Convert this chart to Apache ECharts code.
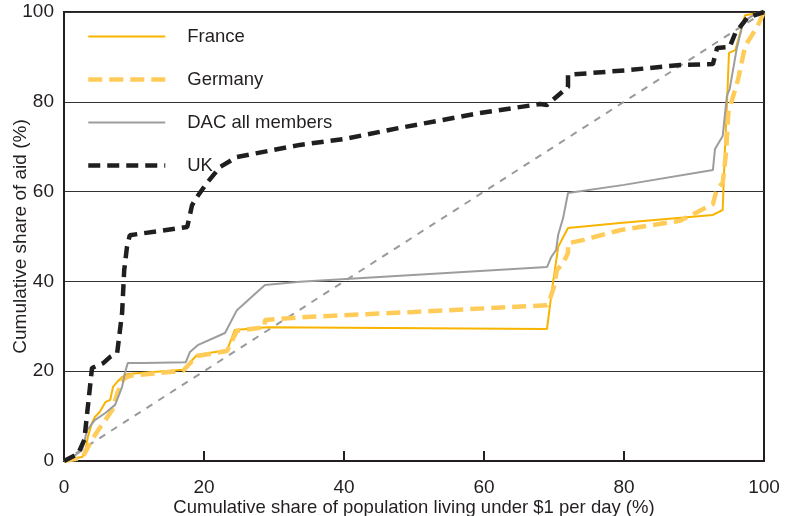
<!DOCTYPE html>
<html>
<head>
<meta charset="utf-8">
<script src="https://cdn.jsdelivr.net/npm/echarts@6/dist/echarts.min.js"></script>
<style>
  html, body { margin: 0; padding: 0; background: #fff; }
  #chart { width: 785px; height: 516px; }
</style>
</head>
<body>
<div id="chart"></div>
<script>
// Cumulative share of population living under $1 per day (x, %) vs cumulative share of aid (y, %)
const xTicks = [0, 20, 40, 60, 80, 100];
const yTicks = [0, 20, 40, 60, 80, 100];

const seriesNames = ['France', 'Germany', 'DAC all members', 'UK'];

const france = [
  [0, 0], [0.6, 0.4], [2.6, 0.9], [3, 1.8], [3.4, 5.3], [4, 8.5], [4.4, 9.8],
  [5.1, 10.9], [5.9, 13.1], [6.6, 13.6], [7, 16.5], [7.6, 17.6], [8.3, 18.7],
  [9.1, 19.4], [17, 20.3], [19, 23.6], [23.3, 24.7], [24.4, 29.2], [29, 29.8],
  [69, 29.4], [69.7, 38], [70.6, 47.7], [72, 51.9], [79.4, 53], [92.7, 54.8],
  [94.1, 55.9], [94.4, 68.6], [94.7, 79.3], [95, 90.9], [95.9, 91.5],
  [96.9, 97.1], [97.3, 99.3], [100, 100]
];

const germany = [
  [0, 0], [2.6, 0.7], [4, 4.7], [4.9, 6.9], [5.9, 9.1], [6.9, 11.4],
  [7.6, 15], [8.5, 18.3], [9.5, 19], [17, 20.1], [19, 23.4], [23.3, 24.5],
  [24.7, 29], [28.7, 29.8], [28.7, 31.4], [33.7, 32], [50, 33.2], [69, 34.7],
  [69.4, 36], [70, 38.8], [70.4, 42.5], [71.3, 44.1], [72, 46.3], [72, 48.5],
  [74.1, 49.2], [79.4, 51.4], [88, 53.5], [92.7, 57.2], [93.3, 60.8],
  [94.1, 61.9], [94.6, 69], [94.9, 77.5], [96.3, 85], [97.3, 92.4],
  [99.1, 96.9], [100, 100]
];

const dac = [
  [0, 0], [0.6, 0.2], [2.6, 2.4], [3.3, 6.9], [4.4, 9.1], [5.9, 10.7],
  [7.3, 12.5], [8.3, 16.5], [8.7, 19.6], [9.1, 21.8], [11.3, 21.8],
  [17.4, 22], [18, 24.3], [19.1, 25.8], [23, 28.5], [24.7, 33.6],
  [28.7, 39.2], [33.7, 39.9], [69, 43.2], [69.6, 45.4], [70.3, 47],
  [70.6, 50.4], [71.3, 54.1], [72, 59.7], [80, 61.5], [92.7, 64.8],
  [93, 69.5], [94.1, 72.4], [94.7, 81.3], [95.1, 82.9], [96.1, 91.8],
  [96.9, 96.9], [97.6, 98.4], [99, 99.8], [100, 100]
];

const uk = [
  [0, 0], [2, 1.6], [2.9, 4.7], [4, 20.7], [5.6, 21.8], [6.6, 23.2],
  [7.6, 24.1], [8.3, 33], [8.6, 42.5], [9, 47.7], [9.4, 50.3], [17.6, 52.1],
  [18.3, 57], [19, 58.8], [20.4, 61.9], [22.3, 65.5], [24.7, 67.7],
  [33.7, 70.4], [40, 71.7], [48, 74.2], [59.4, 77.5], [68, 79.5], [69, 79.3],
  [72, 83.3], [72, 86], [80.9, 87.1], [88, 88.2], [92.7, 88.4], [93.3, 92],
  [95.1, 92.2], [95.9, 95.3], [97.6, 98.7], [100, 100]
];

// equal-distribution reference line
const equality = [[0, 0], [100, 100]];

const FONT = '"Liberation Sans", Arial, sans-serif';
const INK = '#231f20';

const chart = echarts.init(document.getElementById('chart'), null, { renderer: 'canvas' });

function lineSeries(name, data, color, width, type, z) {
  return {
    name, type: 'line', data, z,
    showSymbol: false, symbol: 'none', smooth: false, animation: false,
    lineStyle: { color, width, type },
    itemStyle: { color }
  };
}

chart.setOption({
  animation: false,
  backgroundColor: '#ffffff',
  grid: {
    left: 64, right: 21, top: 12, bottom: 55,
    outerBoundsMode: 'none', containLabel: false,
    show: true, borderColor: INK, borderWidth: 2, backgroundColor: 'transparent'
  },
  legend: {
    orient: 'vertical',
    left: 81, top: 22,
    itemWidth: 77, itemHeight: 14, itemGap: 24,
    data: seriesNames,
    itemStyle: { color: 'transparent', borderColor: 'transparent', borderWidth: 0, opacity: 0 },
    lineStyle: { width: 'inherit' },
    textStyle: { fontFamily: FONT, fontSize: 18.5, color: INK, padding: [0, 0, 0, 17] },
    selectedMode: false
  },
  xAxis: {
    type: 'value', min: 0, max: 100, interval: 20,
    name: 'Cumulative share of population living under $1 per day (%)',
    nameLocation: 'middle', nameGap: 37, nameMoveOverlap: false,
    nameTextStyle: { fontFamily: FONT, fontSize: 18.5, color: INK },
    axisLine: { show: true, lineStyle: { color: INK, width: 2 } },
    axisTick: { show: true, inside: true, length: 10, lineStyle: { color: INK, width: 2 } },
    axisLabel: {
      fontFamily: FONT, fontSize: 19, color: INK, margin: 17,
      formatter: v => xTicks.includes(v) ? String(v) : ''
    },
    splitLine: { show: false }
  },
  yAxis: {
    type: 'value', min: 0, max: 100, interval: 20,
    name: 'Cumulative share of aid (%)',
    nameLocation: 'middle', nameGap: 34, nameRotate: 90, nameMoveOverlap: false,
    nameTextStyle: { fontFamily: FONT, fontSize: 19, color: INK },
    axisLine: { show: true, lineStyle: { color: INK, width: 2 } },
    axisTick: { show: false },
    axisLabel: {
      fontFamily: FONT, fontSize: 19, color: INK, margin: 10,
      formatter: v => yTicks.includes(v) ? String(v) : ''
    },
    splitLine: { show: true, lineStyle: { color: '#333333', width: 1 } }
  },
  series: [
    {
      name: 'equality', type: 'line', data: equality, z: 1,
      showSymbol: false, symbol: 'none', animation: false, silent: true,
      lineStyle: { color: '#9a9a9a', width: 2, type: [7, 7] }
    },
    lineSeries('France', france, '#f8b400', 2, 'solid', 2),
    lineSeries('Germany', germany, '#ffcc5a', 4.5, [14, 7], 3),
    lineSeries('DAC all members', dac, '#9d9d9d', 2, 'solid', 4),
    lineSeries('UK', uk, '#1f1f1f', 4.5, [12, 7], 5)
  ]
});
</script>
</body>
</html>
